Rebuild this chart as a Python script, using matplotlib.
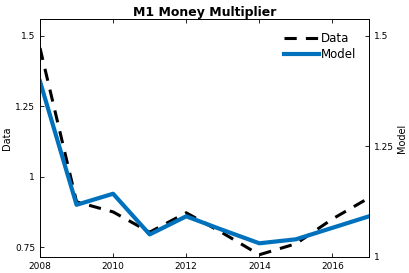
import numpy as np
import matplotlib.pyplot as plt

# values
years = np.arange(2008, 2018)
data = [1.457, 0.911, 0.875, 0.803, 0.872, 0.80, 0.723, 0.762, 0.85, 0.925]
model = [1.397, 1.118, 1.143, 1.051, 1.092, 1.061, 1.031, 1.040, 1.066, 1.092]

plt.rcParams['font.family'] = 'DejaVu Sans'
fig = plt.figure(figsize=(4.09, 2.73), dpi=100)
ax = fig.add_axes([40/409, 16/273, 329/409, 238/273])
ax2 = ax.twinx()

l1, = ax.plot(years, data, 'k--', lw=2.2, dashes=(4, 3), label='Data')
l2, = ax2.plot(years, model, color='#0072BD', lw=3, label='Model')

ax.set_xlim(2008, 2017)
ax.set_ylim(0.715, 1.56)
ax2.set_ylim(1.0, 1.538)
ax.set_xticks([2008, 2010, 2012, 2014, 2016])
ax.set_yticks([0.75, 1, 1.25, 1.5])
ax.set_yticklabels(['0.75', '1', '1.25', '1.5'])
ax2.set_yticks([1, 1.25, 1.5])
ax2.set_yticklabels(['1', '1.25', '1.5'])

for a in (ax, ax2):
    a.tick_params(direction='in', labelsize=6.5, length=3, width=0.6, top=(a is ax))
    for s in a.spines.values():
        s.set_linewidth(0.6)

ax.set_ylabel('Data', fontsize=7, labelpad=2)
ax2.set_ylabel('Model', fontsize=7, labelpad=2)
ax.set_title('M1 Money Multiplier', fontsize=9, fontweight='bold', pad=2)

ax2.legend([l1, l2], ['Data', 'Model'], loc='upper right', frameon=False,
           fontsize=8.5, handlelength=3, handletextpad=0.1, borderaxespad=0.7,
           labelspacing=0.25)

fig.savefig('out.png', dpi=100)
